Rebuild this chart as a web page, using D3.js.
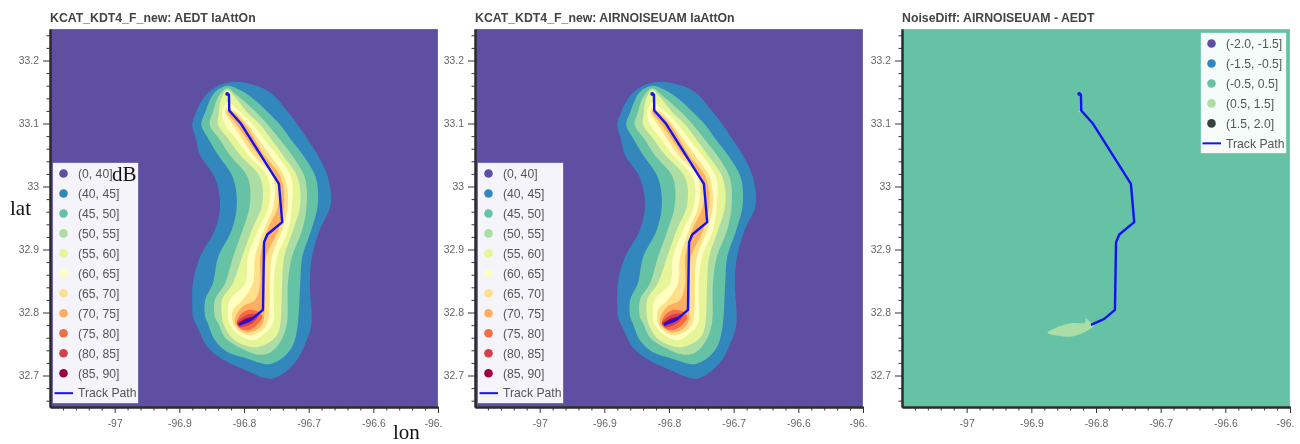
<!DOCTYPE html>
<html><head><meta charset="utf-8">
<script src="https://cdn.jsdelivr.net/npm/d3@7"></script>
<style>html,body{margin:0;padding:0;background:#fff}svg{display:block;filter:blur(0.35px)}
text{font-family:"Liberation Sans",Arial,sans-serif}</style></head>
<body><svg id="c" width="1300" height="444"></svg>
<script>
const lonDomain = [-97.1, -96.5];
const latDomain = [32.65, 33.25];
const lonTicks = [-97, -96.9, -96.8, -96.7, -96.6, -96.5];
const lonTickLabels = ["-97", "-96.9", "-96.8", "-96.7", "-96.6", "-96."];
const latTicks = [32.7, 32.8, 32.9, 33, 33.1, 33.2];
const lonMinor = [-97.08,-97.06,-97.04,-97.02,-96.98,-96.96,-96.94,-96.92,-96.88,-96.86,-96.84,-96.82,-96.78,-96.76,-96.74,-96.72,-96.68,-96.66,-96.64,-96.62,-96.58,-96.56,-96.54,-96.52];
const latMinor = [32.66,32.68,32.72,32.74,32.76,32.78,32.82,32.84,32.86,32.88,32.92,32.94,32.96,32.98,33.02,33.04,33.06,33.08,33.12,33.14,33.16,33.18,33.22,33.24];

const noiseBands = ["(0, 40]","(40, 45]","(45, 50]","(50, 55]","(55, 60]","(60, 65]","(65, 70]","(70, 75]","(75, 80]","(80, 85]","(85, 90]"];
const noiseColors = ["#5e4fa2","#3288bd","#66c2a5","#abdda4","#e6f598","#ffffbf","#fee08b","#fdae61","#f46d43","#d53e4f","#9e0142"];
const diffBands = ["(-2.0, -1.5]","(-1.5, -0.5]","(-0.5, 0.5]","(0.5, 1.5]","(1.5, 2.0]"];
const diffColors = ["#5e4fa2","#3288bd","#66c2a5","#abdda4","#38423c"];

const track = [[-96.826,33.147],[-96.8233,33.146],[-96.8228,33.1206],[-96.8053,33.1005],[-96.746,33.004],[-96.7409,32.9434],[-96.764,32.9238],[-96.769,32.9116],[-96.7707,32.8042],[-96.7872,32.79],[-96.8078,32.7804]];

const contour40 = [[-96.817,33.166],[-96.840,33.160],[-96.860,33.144],[-96.874,33.118],[-96.880,33.098],[-96.874,33.074],[-96.868,33.050],[-96.845,33.014],[-96.837,32.971],[-96.845,32.931],[-96.868,32.888],[-96.879,32.847],[-96.880,32.812],[-96.879,32.793],[-96.871,32.775],[-96.859,32.749],[-96.837,32.728],[-96.799,32.709],[-96.768,32.696],[-96.757,32.695],[-96.741,32.702],[-96.720,32.722],[-96.706,32.749],[-96.696,32.780],[-96.698,32.847],[-96.695,32.888],[-96.683,32.931],[-96.666,32.971],[-96.670,33.014],[-96.686,33.050],[-96.701,33.074],[-96.717,33.098],[-96.732,33.118],[-96.760,33.150],[-96.791,33.163]];
const contour45 = [[-96.825,33.160],[-96.845,33.150],[-96.860,33.118],[-96.866,33.098],[-96.854,33.074],[-96.840,33.050],[-96.817,33.014],[-96.811,32.971],[-96.819,32.931],[-96.840,32.888],[-96.848,32.847],[-96.860,32.820],[-96.860,32.793],[-96.856,32.783],[-96.845,32.756],[-96.825,32.737],[-96.799,32.728],[-96.775,32.720],[-96.760,32.718],[-96.740,32.728],[-96.724,32.749],[-96.717,32.780],[-96.713,32.847],[-96.710,32.888],[-96.696,32.931],[-96.686,32.971],[-96.689,33.014],[-96.709,33.050],[-96.727,33.074],[-96.744,33.098],[-96.763,33.118],[-96.783,33.137],[-96.806,33.153]];
const contour50 = [[-96.826,33.156],[-96.840,33.142],[-96.848,33.118],[-96.853,33.098],[-96.837,33.074],[-96.822,33.050],[-96.794,33.014],[-96.791,32.971],[-96.802,32.931],[-96.817,32.888],[-96.829,32.847],[-96.845,32.820],[-96.845,32.793],[-96.840,32.783],[-96.829,32.760],[-96.806,32.744],[-96.778,32.733],[-96.760,32.736],[-96.744,32.753],[-96.734,32.780],[-96.732,32.847],[-96.726,32.888],[-96.710,32.931],[-96.703,32.971],[-96.706,33.014],[-96.726,33.050],[-96.744,33.074],[-96.763,33.098],[-96.781,33.118],[-96.811,33.145]];
const contour55 = [[-96.826,33.153],[-96.836,33.137],[-96.839,33.118],[-96.840,33.098],[-96.823,33.074],[-96.806,33.050],[-96.775,33.014],[-96.772,32.971],[-96.788,32.931],[-96.803,32.888],[-96.817,32.847],[-96.834,32.820],[-96.834,32.793],[-96.832,32.783],[-96.819,32.760],[-96.799,32.748],[-96.780,32.745],[-96.760,32.753],[-96.749,32.764],[-96.744,32.780],[-96.741,32.847],[-96.738,32.888],[-96.724,32.931],[-96.713,32.971],[-96.717,33.014],[-96.740,33.050],[-96.757,33.074],[-96.775,33.098],[-96.795,33.118],[-96.814,33.142]];
const contour60 = [[-96.826,33.133],[-96.834,33.118],[-96.829,33.098],[-96.811,33.074],[-96.794,33.050],[-96.763,33.014],[-96.761,32.971],[-96.778,32.931],[-96.794,32.888],[-96.798,32.847],[-96.822,32.820],[-96.825,32.793],[-96.823,32.783],[-96.811,32.767],[-96.786,32.756],[-96.768,32.767],[-96.755,32.783],[-96.754,32.820],[-96.754,32.847],[-96.749,32.888],[-96.732,32.931],[-96.726,32.971],[-96.727,33.014],[-96.749,33.050],[-96.768,33.074],[-96.786,33.098],[-96.805,33.118]];
const contour65 = [[-96.826,33.125],[-96.829,33.118],[-96.817,33.098],[-96.802,33.074],[-96.786,33.050],[-96.755,33.014],[-96.754,32.971],[-96.769,32.931],[-96.783,32.888],[-96.786,32.847],[-96.802,32.820],[-96.817,32.804],[-96.817,32.783],[-96.806,32.769],[-96.791,32.764],[-96.772,32.772],[-96.764,32.783],[-96.760,32.820],[-96.760,32.847],[-96.757,32.888],[-96.741,32.931],[-96.732,32.971],[-96.737,33.014],[-96.760,33.050],[-96.777,33.074],[-96.794,33.098],[-96.812,33.118]];
const contour70 = [[-96.825,33.121],[-96.826,33.118],[-96.811,33.098],[-96.795,33.074],[-96.778,33.050],[-96.751,33.014],[-96.747,32.971],[-96.764,32.931],[-96.775,32.888],[-96.775,32.847],[-96.783,32.820],[-96.802,32.810],[-96.812,32.796],[-96.814,32.783],[-96.798,32.769],[-96.783,32.771],[-96.771,32.783],[-96.768,32.820],[-96.768,32.847],[-96.766,32.888],[-96.747,32.931],[-96.738,32.971],[-96.743,33.014],[-96.769,33.050],[-96.783,33.074],[-96.798,33.098],[-96.817,33.118]];
const contour75 = [[-96.811,32.783],[-96.806,32.796],[-96.794,32.804],[-96.778,32.801],[-96.772,32.793],[-96.780,32.780],[-96.794,32.772],[-96.806,32.775]];
const contour80 = [[-96.811,32.783],[-96.802,32.793],[-96.788,32.798],[-96.778,32.796],[-96.783,32.787],[-96.795,32.779],[-96.806,32.777]];
const contour85 = [[-96.809,32.782],[-96.798,32.790],[-96.788,32.793],[-96.783,32.793],[-96.791,32.785],[-96.802,32.782]];
const noiseContours = [contour40,contour45,contour50,contour55,contour60,contour65,contour70,contour75,contour80,contour85];

const diffPatch = [[-96.875,32.768],[-96.863,32.775],[-96.840,32.783],[-96.817,32.784],[-96.816,32.791],[-96.809,32.785],[-96.803,32.780],[-96.812,32.772],[-96.838,32.762],[-96.858,32.763]];
const diffDot = [[-96.827,33.120],[-96.825,33.120],[-96.825,33.118],[-96.827,33.118]];

const svg = d3.select("#c");
const W = 388, H = 378, T = 29;
const x = d3.scaleLinear().domain(lonDomain).range([0, W]);
const y = d3.scaleLinear().domain(latDomain).range([H, 0]);
const smooth = d3.line().x(d => x(d[0])).y(d => y(d[1])).curve(d3.curveCatmullRomClosed.alpha(0.5));
const straight = d3.line().x(d => x(d[0])).y(d => y(d[1]));
const TRACK = "#1212f5";

function panel(id, left, title, bg, drawContours, legend, legendLeft, legendTop, legendH) {
  const g = svg.append("g").attr("transform", `translate(${left},${T})`);
  g.append("clipPath").attr("id", "clip" + id).append("rect").attr("width", W).attr("height", H);
  g.append("rect").attr("width", W).attr("height", H).attr("fill", bg).attr("stroke", "#fff").attr("stroke-opacity", .25);
  const plot = g.append("g").attr("clip-path", `url(#clip${id})`);
  drawContours(plot);
  plot.append("path").attr("d", straight(track)).attr("fill", "none").attr("stroke", TRACK).attr("stroke-width", 2.4).attr("stroke-linejoin", "round");
  plot.append("circle").attr("cx", x(track[0][0])).attr("cy", y(track[0][1])).attr("r", 1.9).attr("fill", TRACK);

  const xa = g.append("g").attr("transform", `translate(0,${H})`);
  const xAxis = xa.append("g").call(d3.axisBottom(x).tickValues(lonTicks).tickFormat((d, i) => lonTickLabels[i]).tickSize(6).tickPadding(7).tickSizeOuter(0));
  xAxis.selectAll(".tick text").filter((d, i) => i === lonTicks.length - 1).attr("text-anchor", "end").attr("dx", 4);
  const xm = xa.append("g").call(d3.axisBottom(x).tickValues(lonMinor).tickFormat("").tickSize(3.5).tickSizeOuter(0));
  const yAxis = g.append("g").call(d3.axisLeft(y).tickValues(latTicks).tickFormat(d => String(d)).tickSize(7).tickPadding(4).tickSizeOuter(0));
  const ym = g.append("g").call(d3.axisLeft(y).tickValues(latMinor).tickFormat("").tickSize(3.5).tickSizeOuter(0));
  [xAxis, xm, yAxis, ym].forEach(a => {
    a.selectAll("path.domain").attr("stroke", "#2b2b2b").attr("stroke-width", 2);
    a.selectAll("line").attr("stroke", "#333");
    a.selectAll("text").attr("fill", "#666").style("font-family", '"Liberation Sans",Arial,sans-serif').style("font-size", "10.4px");
  });
  g.append("text").attr("x", 0).attr("y", -7).attr("fill", "#444").style("font-weight", "bold").style("font-size", "12.3px").text(title);

  const lg = g.append("g").attr("transform", `translate(${legendLeft},${legendTop})`);
  lg.append("rect").attr("width", 85).attr("height", legendH).attr("fill", "#fff").attr("fill-opacity", .94).attr("stroke", "#fff").attr("stroke-opacity", .3);
  legend.forEach((e, i) => {
    const cy = 10.5 + i * 19.97;
    lg.append("circle").attr("cx", 10.5).attr("cy", cy).attr("r", 4.3).attr("fill", e[1]);
    lg.append("text").attr("x", 25).attr("y", cy + 4.3).attr("fill", "#555").style("font-size", "12.2px").text(e[0]);
  });
  const ty = 10.5 + legend.length * 19.97;
  lg.append("line").attr("x1", 1.5).attr("x2", 20).attr("y1", ty).attr("y2", ty).attr("stroke", TRACK).attr("stroke-width", 2);
  lg.append("text").attr("x", 25).attr("y", ty + 4.3).attr("fill", "#555").style("font-size", "12.2px").text("Track Path");
}

function drawNoise(plot) {
  noiseContours.forEach((c, i) => plot.append("path").attr("d", smooth(c)).attr("fill", noiseColors[i + 1]));
}
function drawDiff(plot) {
  plot.append("path").attr("d", smooth(diffPatch)).attr("fill", diffColors[3]);
  plot.append("path").attr("d", smooth(diffDot)).attr("fill", diffColors[3]);
}
const noiseLegend = noiseBands.map((b, i) => [b, noiseColors[i]]);
const diffLegend = diffBands.map((b, i) => [b, diffColors[i]]);

panel("a", 50, "KCAT_KDT4_F_new: AEDT laAttOn", noiseColors[0], drawNoise, noiseLegend, 3, 134, 240);
panel("b", 475, "KCAT_KDT4_F_new: AIRNOISEUAM laAttOn", noiseColors[0], drawNoise, noiseLegend, 3, 134, 240);
panel("c", 902, "NoiseDiff: AIRNOISEUAM - AEDT", diffColors[2], drawDiff, diffLegend, 299, 4, 120);

const notes = [["dB", 112, 181], ["lat", 10, 215], ["lon", 393, 439]];
notes.forEach(n => svg.append("text").attr("x", n[1]).attr("y", n[2]).attr("fill", "#111").style("font-family", '"Liberation Serif",serif').style("font-size", "21px").text(n[0]));
</script></body></html>
